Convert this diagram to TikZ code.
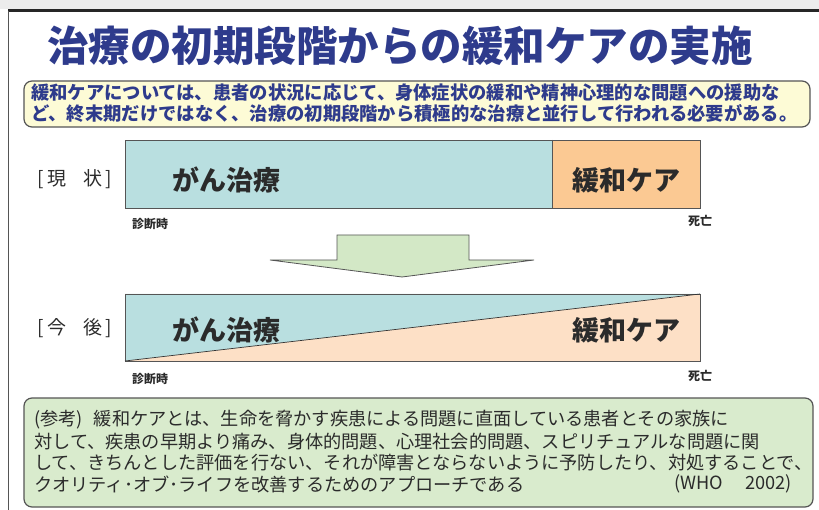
\documentclass[tikz,border=0pt]{standalone}
\usepackage{fontspec}
\setmainfont{Noto Sans CJK JP}
\usepackage{xcolor}
\usepackage{tikz}

\definecolor{titleblue}{HTML}{2E3B8C}
\definecolor{noteyellow}{HTML}{FDFBD6}
\definecolor{notegreen}{HTML}{D9EBCD}
\definecolor{arrowgreen}{HTML}{D3E8C6}
\definecolor{curegblue}{HTML}{B9DFE0}
\definecolor{careorange}{HTML}{FBC993}
\definecolor{carepeach}{HTML}{FDE0C6}
\definecolor{boxgray}{HTML}{555555}
\definecolor{textgray}{HTML}{2B2B2B}

\begin{document}
\begin{tikzpicture}[x=1pt,y=-1pt,
  every node/.style={inner sep=0pt},
  notetext/.style={anchor=west,titleblue,font=\fontsize{18.3}{20}\selectfont\bfseries},
  reftext/.style={anchor=west,textgray,font=\fontsize{18.2}{20}\selectfont},
  barlabel/.style={textgray,font=\fontsize{27}{28}\selectfont\bfseries},
  rowlabel/.style={anchor=east,textgray,font=\fontsize{19}{20}\selectfont},
  timelabel/.style={textgray,font=\fontsize{12}{13}\selectfont\bfseries}]
\useasboundingbox (0,0) rectangle (819,510);

% frame
\fill [gray!15] (0,0) rectangle (819,9);
\draw [line width=3pt, black!85] (8,11) -- (819,11);
\draw [line width=1pt, boxgray] (8.5,11) -- (8.5,510);

\node (title) [titleblue, font=\fontsize{41.5}{42}\selectfont\bfseries] at (400,46) {治療の初期段階からの緩和ケアの実施};

\draw [rounded corners=8pt, fill=noteyellow, draw=boxgray, line width=1.2pt] (24,81) rectangle (810,127);
\node (noteA) [notetext] at (31,93) {緩和ケアについては、患者の状況に応じて、身体症状の緩和や精神心理的な問題への援助な};
\node (noteB) [notetext] at (31,113) {ど、終末期だけではなく、治療の初期段階から積極的な治療と並行して行われる必要がある。};

% [現 状]
\fill [curegblue] (125,140) rectangle (552,208);
\fill [careorange] (552,140) rectangle (700,208);
\draw [boxgray, line width=0.8pt] (125,140) rectangle (700,208);
\draw [boxgray, line width=0.8pt] (552,140) -- (552,208);
\node (nowrow) [rowlabel] at (112,179) {[\,現\hspace{0.9em}状\,]};
\node (nowcure) [barlabel] at (226,180) {がん治療};
\node (nowcare) [barlabel] at (626,180) {緩和ケア};
\node (nowstart) [timelabel] at (150,224) {診断時};
\node (nowend) [timelabel] at (700,221) {死亡};

\draw [fill=arrowgreen, draw=boxgray, line width=0.8pt]
  (337,235) -- (469,235) -- (469,260) -- (534,260) -- (402,277) -- (270,260) -- (337,260) -- cycle;

% [今 後]
\fill [curegblue] (125,294) -- (700,294) -- (125,361) -- cycle;
\fill [carepeach] (700,294) -- (700,361) -- (125,361) -- cycle;
\draw [boxgray, line width=0.8pt] (125,294) rectangle (700,361);
\draw [black!80, line width=0.7pt] (125,361) -- (700,294);
\node (laterrow) [rowlabel] at (112,328) {[\,今\hspace{0.9em}後\,]};
\node (latercure) [barlabel] at (226,330) {がん治療};
\node (latercare) [barlabel] at (626,330) {緩和ケア};
\node (laterstart) [timelabel] at (150,379) {診断時};
\node (laterend) [timelabel] at (700,376) {死亡};

\draw [rounded corners=8pt, fill=notegreen, draw=boxgray, line width=1.2pt] (24,398) rectangle (813,507);
\node (refA) [reftext] at (34,420) {(参考)\hspace{0.6em}緩和ケアとは、生命を脅かす疾患による問題に直面している患者とその家族に};
\node (refB) [reftext] at (34,442) {対して、疾患の早期より痛み、身体的問題、心理社会的問題、スピリチュアルな問題に関};
\node (refC) [reftext] at (34,463) {して、きちんとした評価を行ない、それが障害とならないように予防したり、対処することで、};
\node (refD) [reftext] at (34,484) {クオリティ･オブ･ライフを改善するためのアプローチである};
\node (refE) [reftext, anchor=east] at (792,484) {(WHO\hspace{1.2em}2002)};
\end{tikzpicture}
\end{document}
